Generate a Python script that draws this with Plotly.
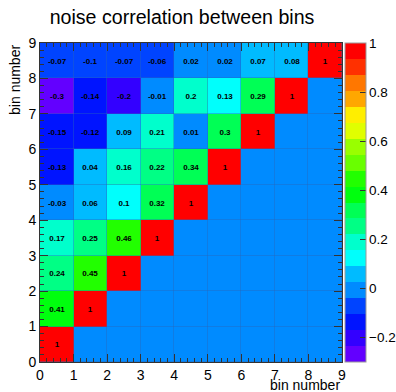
import plotly.graph_objects as go
import colorsys

# Data: rows are y bins 0..8 (bottom to top), columns x bins 0..8
bins = [0.5 + i for i in range(9)]
row0 = [1, 0, 0, 0, 0, 0, 0, 0, 0]
row1 = [0.41, 1, 0, 0, 0, 0, 0, 0, 0]
row2 = [0.24, 0.45, 1, 0, 0, 0, 0, 0, 0]
row3 = [0.17, 0.25, 0.46, 1, 0, 0, 0, 0, 0]
row4 = [-0.03, 0.06, 0.1, 0.32, 1, 0, 0, 0, 0]
row5 = [-0.13, 0.04, 0.16, 0.221, 0.34, 1, 0, 0, 0]
row6 = [-0.15, -0.12, 0.09, 0.21, 0.01, 0.3, 1, 0, 0]
row7 = [-0.3, -0.14, -0.2, -0.01, 0.2, 0.13, 0.29, 1, 0]
row8 = [-0.07, -0.1, -0.07, -0.06, 0.02, 0.02, 0.07, 0.08, 1]
z = [row0, row1, row2, row3, row4, row5, row6, row7, row8]
labels = [["" if v == 0 else f"{round(v, 2):g}" for v in r] for r in z]
zmin, zmax = -0.3, 1.0
ncont = 20
cb_ticks = [-0.2, 0, 0.2, 0.4, 0.6, 0.8, 1]
cb_ticktext = ["\u22120.2", "0", "0.2", "0.4", "0.6", "0.8", "1"]

# ROOT palette 1 (50 colours) sampled at 20 contours
def root_color(k):
    idx = int((k + 0.99) * 50 / ncont)
    hue = 280 - (idx + 1) * (280 / 50)
    r, g, b = colorsys.hls_to_rgb(hue / 360.0, 0.5, 1.0)
    return f"rgb({int(round(r*255))},{int(round(g*255))},{int(round(b*255))})"

colorscale = []
for k in range(ncont):
    c = root_color(k)
    colorscale.append([k / ncont, c])
    colorscale.append([(k + 1) / ncont, c])

FONT = "Liberation Sans"
W, H = 396, 392

fig = go.Figure(go.Heatmap(
    x=bins, y=bins, z=z, text=labels, texttemplate="%{text}",
    textfont=dict(size=8, color="black", family=FONT, weight="bold"),
    zmin=zmin, zmax=zmax, colorscale=colorscale,
    xgap=0.4, ygap=0.4,
    colorbar=dict(
        x=1.0099, xanchor="left", xpad=0, y=0.5, yanchor="middle", len=1,
        thickness=21, ypad=0, outlinewidth=1, outlinecolor="#999999",
        tickvals=cb_ticks, ticks="inside", ticklen=6, tickcolor="#333333",
        showticklabels=False,
    ),
    hoverinfo="skip",
))

axis_common = dict(
    range=[0, 9], dtick=1, tick0=0, ticks="inside", ticklen=8, tickcolor="#333333",
    showline=True, linecolor="#333333", linewidth=1, mirror="ticks",
    showgrid=False, zeroline=False, automargin=False,
    tickfont=dict(size=14, family=FONT, color="black"),
    minor=dict(dtick=0.2, ticks="inside", ticklen=4, tickcolor="#333333"),
)
fig.update_xaxes(**axis_common)
fig.update_yaxes(**axis_common)

annotations = [
    dict(text="bin number", xref="paper", yref="paper", x=1, y=-0.072,
         xanchor="right", yanchor="middle", showarrow=False,
         font=dict(size=14, family=FONT, color="black")),
    dict(text="bin number", xref="paper", yref="paper", x=-0.083, y=1,
         xanchor="center", yanchor="top", textangle=-90, showarrow=False,
         font=dict(size=14, family=FONT, color="black")),
]
# colour-bar tick labels placed at their data values
for v, t in zip(cb_ticks, cb_ticktext):
    annotations.append(dict(
        text=t, xref="paper", yref="paper", x=1.084, y=(v - zmin) / (zmax - zmin),
        xanchor="left", yanchor="middle", showarrow=False,
        font=dict(size=13.5, family=FONT, color="black")))

fig.update_layout(
    width=W, height=H,
    margin=dict(l=40, r=54, t=43, b=30, autoexpand=False),
    paper_bgcolor="white", plot_bgcolor="#2a66b8",
    title=dict(text="noise correlation between bins", x=182 / W, xanchor="center",
               y=1 - 17.5 / H, yanchor="middle", xref="container", yref="container",
               font=dict(size=19.6, family=FONT, color="black")),
    annotations=annotations,
)

fig.write_html("out.html",
               config={"displayModeBar": False},
               post_script="document.body.style.margin='0';document.body.style.overflow='hidden';")
